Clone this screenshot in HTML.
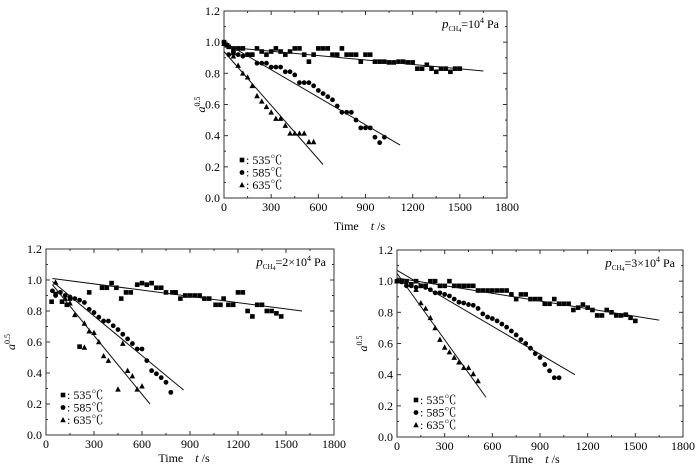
<!DOCTYPE html>
<html><head><meta charset="utf-8"><style>
body{margin:0;background:#fff;width:700px;height:466px;overflow:hidden}
svg{font-family:"Liberation Serif","Noto Serif CJK SC",serif}
</style></head><body>
<svg id="s" width="700" height="466" xmlns="http://www.w3.org/2000/svg"></svg>
<script>
// Panel A: p=1e4
const xTicks=[0,300,600,900,1200,1500,1800];
const yTicks=[0,0.2,0.4,0.6,0.8,1.0,1.2];
const seriesNames=["535℃","585℃","635℃"];
const a535t=[0,20,30,60,60,90,120,150,180,210,240,270,300,330,360,390,420,450,480,510,540,570,600,630,660,690,720,750,780,810,840,870,900,930,960,990,1020,1050,1080,1110,1140,1170,1200,1230,1260,1290,1320,1350,1380,1410,1440,1470,1500];
const a535v=[1.0,.98,.97,.96,.93,.96,.96,.92,.92,.96,.94,.92,.94,.96,.94,.92,.94,.96,.96,.92,.875,.92,.96,.96,.96,.92,.92,.96,.92,.92,.92,.875,.92,.92,.875,.875,.875,.87,.87,.875,.875,.87,.87,.83,.83,.855,.83,.81,.83,.83,.81,.83,.83];
const a585t=[0,30,60,90,120,150,180,210,240,270,300,330,360,390,420,450,480,510,540,570,600,630,660,690,720,750,780,810,840,870,900,930,960,990,1020];
const a585v=[1.0,.92,.94,.92,.91,.92,.92,.865,.865,.865,.84,.84,.84,.81,.81,.79,.74,.74,.74,.72,.69,.67,.65,.63,.59,.55,.55,.55,.5,.45,.45,.45,.39,.355,.39];
const a635t=[0,60,90,120,150,180,210,240,270,300,330,360,390,420,450,480,510,540,570];
const a635v=[.99,.91,.85,.80,.775,.72,.655,.62,.585,.55,.51,.51,.465,.415,.415,.415,.415,.36,.36];
const aFitT=[[0,1650],[0,1120],[0,630]];
const aFitV=[[.97,.815],[1.0,.34],[.94,.215]];
// Panel B: p=2e4
const b535t=[35,60,100,130,150,210,270,350,380,410,440,470,500,530,570,600,630,660,690,720,750,790,810,840,870,900,930,960,990,1020,1060,1090,1110,1140,1170,1200,1230,1260,1290,1320,1350,1380,1410,1440,1470];
const b535v=[.86,.91,.86,.84,.88,.57,.92,.95,.95,.98,.95,.88,.92,.92,.97,.98,.97,.98,.95,.95,.92,.92,.92,.88,.90,.90,.90,.90,.88,.88,.84,.84,.88,.84,.84,.92,.92,.80,.765,.84,.84,.80,.80,.785,.765];
const b585t=[40,60,90,120,150,180,210,240,270,300,330,360,390,420,450,480,510,540,570,600,630,660,690,720,750,780];
const b585v=[.93,.90,.92,.90,.89,.88,.87,.855,.81,.79,.76,.735,.735,.705,.68,.65,.62,.59,.555,.555,.48,.415,.395,.37,.34,.275];
const b635t=[60,120,150,180,240,240,270,300,330,360,390,450,480,510,540,570,600];
const b635v=[.985,.88,.85,.775,.565,.72,.67,.66,.60,.51,.48,.295,.59,.415,.38,.295,.315];
const bFitT=[[40,1600],[40,860],[40,650]];
const bFitV=[[1.01,.80],[.99,.29],[.97,.20]];
// Panel C: p=3e4
const c535t=[0,30,60,90,120,150,180,210,240,270,300,330,360,390,420,450,480,510,540,570,600,630,660,690,720,750,780,810,840,870,900,930,960,990,1020,1050,1080,1110,1140,1170,1200,1230,1260,1290,1320,1350,1380,1410,1440,1470,1500];
const c535v=[1.0,1.0,1.0,.98,1.0,.97,.97,1.0,1.0,.97,.97,1.0,.97,.97,.97,.97,.97,.94,.94,.94,.94,.94,.94,.94,.915,.885,.915,.915,.885,.885,.885,.855,.855,.885,.855,.855,.855,.815,.83,.85,.83,.815,.78,.78,.815,.80,.78,.78,.785,.765,.745];
const c585t=[0,30,60,90,120,150,180,210,240,270,300,330,360,390,420,450,480,510,540,570,600,630,660,690,720,750,780,810,840,870,900,930,960,990,1020];
const c585v=[1.0,.995,.97,.97,.96,.97,.96,.945,.925,.925,.915,.905,.885,.865,.86,.85,.845,.825,.79,.77,.76,.745,.725,.705,.68,.655,.625,.60,.57,.535,.51,.465,.425,.38,.38];
const c635t=[0,30,60,120,150,180,210,240,270,300,330,360,390,420,450,480,510];
const c635v=[1.0,1.0,.98,.945,.86,.825,.765,.70,.625,.575,.545,.51,.48,.445,.445,.405,.36];
const cFitT=[[0,1650],[0,1120],[0,560]];
const cFitV=[[1.02,.75],[1.07,.40],[1.05,.255]];

const NS="http://www.w3.org/2000/svg";
const svg=document.getElementById('s');
function mk(tag,at,parent){const e=document.createElementNS(NS,tag);for(const k in at)e.setAttribute(k,at[k]);(parent||svg).appendChild(e);return e;}
function marker(g,type,x,y){
  let e;
  if(type===0){e=mk('rect',{x:x-2.3,y:y-2.3,width:4.6,height:4.6,fill:'#000'},g);}
  else if(type===1){e=mk('circle',{cx:x,cy:y,r:2.4,fill:'#000'},g);}
  else {e=mk('polygon',{points:`${x},${y-3} ${x-2.8},${y+2.3} ${x+2.8},${y+2.3}`,fill:'#000'},g);}
  return e;
}
function panel(id,L,R,T,B,ts,vs,fitT,fitV,label,legX,legY,ylabX,titleY){
  const g=mk('g',{});
  
  
  const sx=t=>L+(R-L)*t/1800, sy=v=>B-(B-T)*v/1.2;
  const fr=mk('rect',{x:L,y:T,width:R-L,height:B-T,fill:'none',stroke:'#333','stroke-width':1},g);
  
  
  for(let t=0;t<=1800;t+=150){const x=sx(t);const len=t%300===0?4:2;
    mk('line',{x1:x,x2:x,y1:B,y2:B-len,stroke:'#333'},g);mk('line',{x1:x,x2:x,y1:T,y2:T+len,stroke:'#333'},g);}
  for(let i=0;i<=12;i++){const y=sy(i/10);const len=i%2===0?4:2;
    mk('line',{x1:L,x2:L+len,y1:y,y2:y,stroke:'#333'},g);mk('line',{x1:R,x2:R-len,y1:y,y2:y,stroke:'#333'},g);}
  xTicks.forEach(t=>{const e=mk('text',{x:sx(t),y:B+13,'text-anchor':'middle','font-size':12},g);e.textContent=t;
    });
  yTicks.forEach(v=>{const e=mk('text',{x:L-4,y:sy(v)+4,'text-anchor':'end','font-size':12},g);e.textContent=v.toFixed(1);
    });
  const xt=mk('text',{x:(L+R)/2-6,y:titleY,'text-anchor':'middle','font-size':12},g);
  xt.innerHTML='Time&#160;&#160;&#160;&#160;<tspan font-style="italic">t</tspan> /s';
  
  const yt=mk('text',{x:ylabX,y:(T+B)/2,'text-anchor':'middle','font-size':12,'font-style':'italic',transform:`rotate(-90 ${ylabX} ${(T+B)/2})`},g);
  yt.innerHTML='a<tspan font-size="8" dy="-5" font-style="normal">0.5</tspan>';
  
  const an=mk('text',{x:R-8,y:T+17,'text-anchor':'end','font-size':12},g);
  an.innerHTML=label;
  
  for(let s=0;s<3;s++){
    const sg=mk('g',{},g);
    
    
    ts[s].forEach((t,i)=>{const m=marker(sg,s,sx(t),sy(vs[s][i]));
      });
    const fl=mk('line',{x1:sx(fitT[s][0]),y1:sy(fitV[s][0]),x2:sx(fitT[s][1]),y2:sy(fitV[s][1]),stroke:'#111','stroke-width':1},sg);
    
    const lg=mk('g',{},g);
    
    
    marker(lg,s,legX,legY+s*12.5-4);
    const lt=mk('text',{x:legX+4,y:legY+s*12.5,'font-size':12},lg);lt.textContent=': '+seriesNames[s];
  }
}
panel('panel-1e4',224,507,11,198,[a535t,a585t,a635t],[a535v,a585v,a635v],aFitT,aFitV,
 '<tspan font-style="italic" font-size="13">p</tspan><tspan font-size="7" dy="3">CH</tspan><tspan font-size="6" dy="1">4</tspan><tspan dy="-4">=10</tspan><tspan font-size="8" dy="-5">4</tspan><tspan dy="5"> Pa</tspan>',242,164,205,230);
panel('panel-2e4',46,334,249,435,[b535t,b585t,b635t],[b535v,b585v,b635v],bFitT,bFitV,
 '<tspan font-style="italic" font-size="13">p</tspan><tspan font-size="7" dy="3">CH</tspan><tspan font-size="6" dy="1">4</tspan><tspan dy="-4">=2×10</tspan><tspan font-size="8" dy="-5">4</tspan><tspan dy="5"> Pa</tspan>',63,399,15,462);
panel('panel-3e4',397,683,250,437,[c535t,c585t,c635t],[c535v,c585v,c635v],cFitT,cFitV,
 '<tspan font-style="italic" font-size="13">p</tspan><tspan font-size="7" dy="3">CH</tspan><tspan font-size="6" dy="1">4</tspan><tspan dy="-4">=3×10</tspan><tspan font-size="8" dy="-5">4</tspan><tspan dy="5"> Pa</tspan>',416,404,367,463);
</script>
</body></html>
